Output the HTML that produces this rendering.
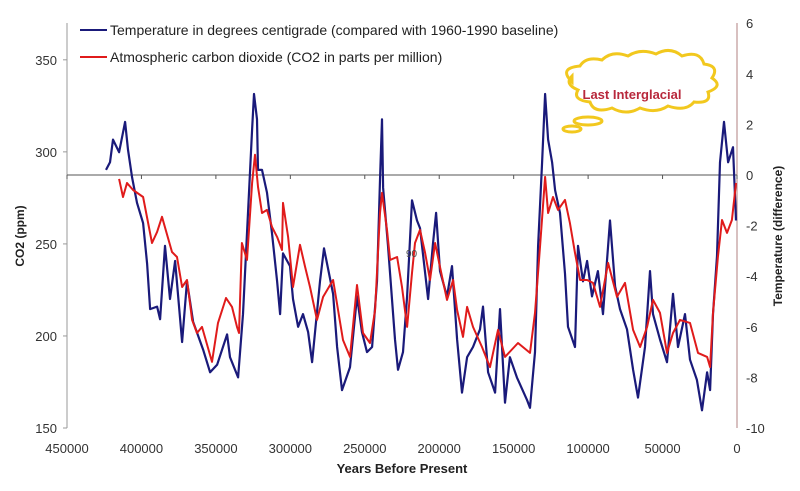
<!DOCTYPE html>
<html><head><meta charset="utf-8"><style>
body{margin:0;background:#fff}
svg{display:block;font-family:"Liberation Sans",Arial,sans-serif}
</style></head><body>
<svg id="chart" width="800" height="491" viewBox="0 0 800 491" xmlns="http://www.w3.org/2000/svg">
<rect width="800" height="491" fill="#fff"/>
<g id="axes"></g>
<g id="series"></g>
<g>
 <line x1="80" y1="30" x2="107" y2="30" stroke="#1a1a7a" stroke-width="2"/>
 <text x="110" y="35" font-size="14" fill="#222">Temperature in degrees centigrade (compared with 1960-1990 baseline)</text>
 <line x1="80" y1="57" x2="107" y2="57" stroke="#e01b1b" stroke-width="2"/>
 <text x="110" y="62" font-size="14" fill="#222">Atmospheric carbon dioxide (CO2 in parts per million)</text>
</g>
<g fill="#fff" stroke="#f2c81e" stroke-width="3">
 <path d="M572,82 q-14,-14 8,-16 q6,-10 22,-6 q10,-10 26,-4 q12,-8 28,-2 q14,-8 26,2 q18,-6 22,8 q16,2 8,14 q12,8 -4,14 q4,12 -14,10 q-8,10 -26,4 q-12,8 -28,2 q-14,8 -28,0 q-18,6 -22,-6 q-18,-2 -12,-12 q-14,-6 -6,-14 z"/>
 <ellipse cx="588" cy="121" rx="14" ry="4"/>
 <ellipse cx="572" cy="129" rx="9" ry="3"/>
</g>
<text x="632" y="99" font-size="13" font-weight="bold" fill="#b8283c" text-anchor="middle">Last Interglacial</text>
<text x="406" y="257" font-size="10" fill="#444">90</text>
<text x="402" y="473" font-size="13" font-weight="bold" fill="#222" text-anchor="middle">Years Before Present</text>
<text transform="translate(24,236) rotate(-90)" font-size="12" font-weight="bold" fill="#222" text-anchor="middle">CO2 (ppm)</text>
<text transform="translate(782,236) rotate(-90)" font-size="12" font-weight="bold" fill="#222" text-anchor="middle">Temperature (difference)</text>
</svg>
<script>
const xTicks=[450000,400000,350000,300000,250000,200000,150000,100000,50000,0];
const co2Ticks=[150,200,250,300,350];
const tempTicks=[-10,-8,-6,-4,-2,0,2,4,6];
const tempAges=[423.8,421.1,419.1,415.0,411.0,409.0,406.3,403.0,398.9,396.2,394.2,389.5,387.5,384.2,380.8,377.4,372.7,369.4,365.3,358.6,353.9,349.2,342.5,340.5,335.1,331.8,328.4,325.7,324.4,322.4,321.7,319.0,315.7,312.3,308.9,306.9,304.9,300.2,298.2,294.8,291.5,288.1,285.4,280.1,277.4,271.3,268.6,265.3,259.9,255.2,251.9,248.5,245.1,241.8,239.8,238.4,237.7,234.4,229.7,227.7,224.3,221.6,218.3,214.9,212.9,207.5,204.2,202.1,199.5,194.8,191.4,188.0,184.7,181.3,177.3,172.6,170.6,167.2,162.5,159.2,155.8,152.5,147.8,141.0,139.0,135.7,133.6,130.9,128.9,126.9,124.2,122.2,118.9,115.5,113.5,108.8,106.8,103.4,100.7,97.4,93.4,90.0,85.3,81.9,78.6,73.9,69.8,66.5,61.8,58.4,56.4,51.7,47.0,43.0,39.6,34.9,31.6,26.9,23.5,20.1,18.1,16.1,13.4,11.4,8.7,6.0,2.7,0.7];
const tempValues=[0.2,0.5,1.4,0.9,2.1,1.0,-0.1,-1.1,-1.9,-3.5,-5.3,-5.2,-5.7,-2.8,-4.9,-3.4,-6.6,-4.2,-5.8,-6.9,-7.8,-7.5,-6.3,-7.2,-8.0,-5.5,-1.5,1.8,3.2,2.2,0.2,0.2,-0.7,-2.3,-4.2,-5.5,-3.1,-3.6,-4.9,-6.0,-5.5,-6.2,-7.4,-4.2,-2.9,-4.7,-6.8,-8.5,-7.6,-4.8,-6.2,-7.0,-6.8,-4.2,-0.2,2.2,-0.5,-2.8,-6.5,-7.7,-7.0,-4.8,-1.0,-1.8,-2.1,-4.9,-2.7,-1.5,-3.8,-4.8,-3.6,-6.5,-8.6,-7.2,-6.8,-6.1,-5.2,-7.8,-8.6,-5.3,-9.0,-7.2,-8.0,-8.9,-9.2,-7.0,-2.8,0.5,3.2,1.4,0.5,-0.6,-1.5,-3.9,-6.0,-6.8,-2.8,-4.2,-3.4,-4.8,-3.8,-5.5,-1.8,-4.4,-5.3,-6.1,-7.7,-8.8,-6.8,-3.8,-5.5,-6.5,-7.4,-4.7,-6.8,-5.5,-7.3,-8.1,-9.3,-7.8,-8.5,-5.5,-3.2,0.5,2.1,0.5,1.1,-1.8];
const co2Ages=[415.0,412.4,409.7,405.6,398.9,392.9,389.5,386.2,379.5,376.1,372.7,369.4,366.0,362.7,359.3,352.6,348.6,343.2,339.2,335.8,334.5,332.5,329.1,325.7,323.7,321.7,319.0,315.7,312.3,308.9,305.6,304.9,301.5,298.2,293.5,290.1,286.8,282.1,278.0,271.3,264.6,259.9,255.2,251.2,246.5,243.1,239.8,238.4,235.1,233.0,228.3,225.0,221.6,218.3,216.3,212.9,209.5,206.2,202.8,199.5,194.8,190.7,188.0,184.0,181.3,177.3,171.3,165.9,160.5,155.8,147.1,139.0,135.7,132.3,128.9,126.9,123.6,120.2,115.5,112.2,108.8,105.4,100.7,96.7,92.0,86.6,80.6,75.2,69.8,65.1,60.4,56.4,51.7,47.0,43.0,38.3,31.6,26.2,20.1,18.1,16.1,12.8,10.1,6.7,3.4,0.7];
const co2Values=[285.3,275.5,283.1,279.3,275.5,250.5,256.5,264.7,245.6,242.9,226.6,230.4,208.7,201.6,204.9,185.9,207.1,220.6,215.8,204.9,201.6,250.5,241.3,283.1,298.4,281.0,266.8,268.5,259.2,253.8,246.7,272.3,253.8,226.6,249.5,237.5,226.6,208.7,221.2,230.4,197.8,188.6,227.7,201.6,196.2,214.1,266.8,277.7,257.6,241.3,242.9,226.6,204.9,234.2,250.5,257.6,245.1,230.4,250.5,237.5,219.6,230.4,214.1,199.5,215.8,204.9,194.0,183.1,203.3,188.6,196.2,190.8,212.5,248.4,286.4,266.8,275.5,268.5,273.9,261.4,245.1,230.4,230.4,228.8,215.8,239.7,221.2,228.8,203.3,194.0,204.9,219.6,212.5,190.8,201.6,208.7,207.1,190.8,188.6,183.1,212.5,242.9,263.0,256.0,263.0,283.1];

const NS='http://www.w3.org/2000/svg';
const X0=67,X1=737,YT=23,YB=428;
function xYears(y){return X1-(y/450000)*(X1-X0);}
function xKyr(k){return xYears(k*1000);}
function yCO2(v){return YB-(v-150)/220*(YB-YT);}
function yTemp(t){return 175-t*25.3;}
function mk(tag,attrs,parent){const e=document.createElementNS(NS,tag);for(const k in attrs)e.setAttribute(k,attrs[k]);parent.appendChild(e);return e;}
const axes=document.getElementById('axes');
const series=document.getElementById('series');

const la=mk('line',{x1:X0,y1:YT,x2:X0,y2:YB,stroke:'#999','stroke-width':1},axes);


const ra=mk('line',{x1:X1,y1:YT,x2:X1,y2:YB,stroke:'#b08080','stroke-width':1},axes);


const zl=mk('line',{x1:X0,y1:175,x2:X1,y2:175,stroke:'#555','stroke-width':1},axes);



co2Ticks.forEach(v=>{
 const y=yCO2(v);
 const t=mk('line',{x1:X0-4,y1:y,x2:X0,y2:y,stroke:'#999'},axes);
 
 
 const l=mk('text',{x:X0-10,y:y+5,'font-size':13,fill:'#333','text-anchor':'end'},axes);
 l.textContent=v;
 
 
});
tempTicks.forEach(v=>{
 const y=yTemp(v);
 const l=mk('text',{x:746,y:y+5,'font-size':13,fill:'#333'},axes);
 l.textContent=v;
 
 
});
xTicks.forEach(v=>{
 const x=xYears(v);
 const t=mk('line',{x1:x,y1:175,x2:x,y2:179,stroke:'#555'},axes);
 
 
 const l=mk('text',{x:x,y:453,'font-size':13,fill:'#333','text-anchor':'middle'},axes);
 l.textContent=v;
 
 
});

const tp=tempAges.map((a,i)=>xKyr(a).toFixed(1)+','+yTemp(tempValues[i]).toFixed(1)).join(' ');
const tl=mk('polyline',{points:tp,fill:'none',stroke:'#1a1a7a','stroke-width':2.2,'stroke-linejoin':'round'},series);


const cp=co2Ages.map((a,i)=>xKyr(a).toFixed(1)+','+yCO2(co2Values[i]).toFixed(1)).join(' ');
const cl=mk('polyline',{points:cp,fill:'none',stroke:'#e01b1b','stroke-width':2,'stroke-linejoin':'round'},series);


</script>
</body></html>
